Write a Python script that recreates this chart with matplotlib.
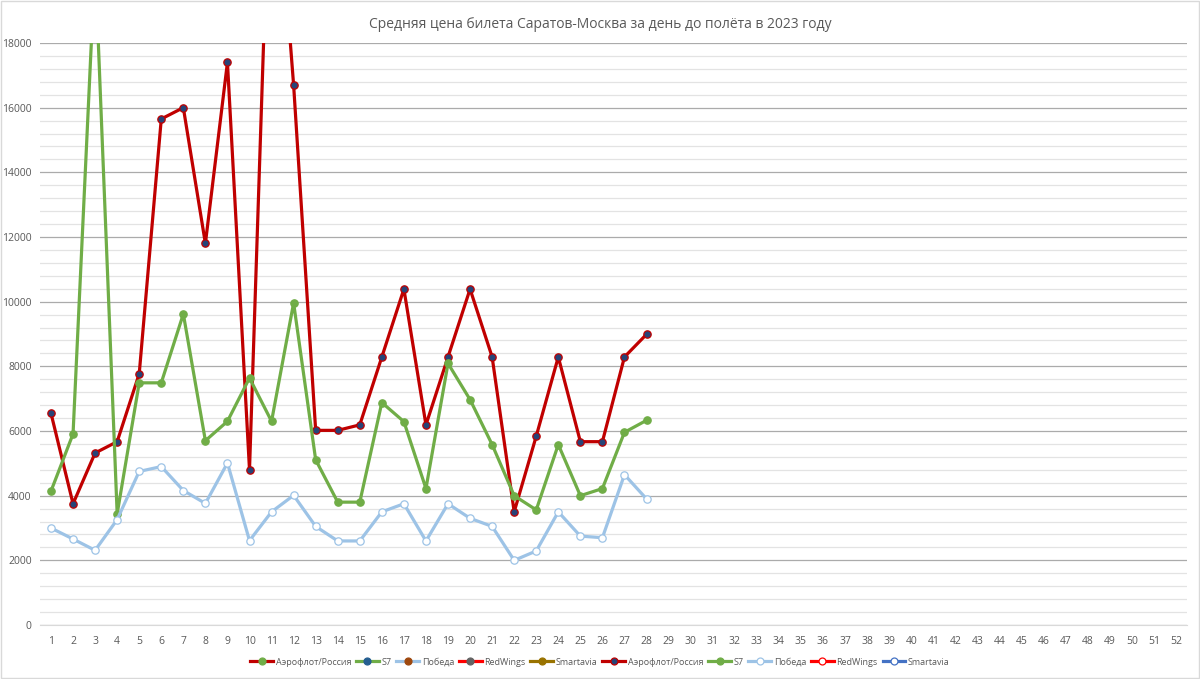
"""Average Saratov-Moscow ticket price one day before the flight, 2023 (by week)."""
import matplotlib
matplotlib.use("Agg")
import matplotlib.pyplot as plt
import numpy as np
from matplotlib.lines import Line2D
from matplotlib.ticker import MultipleLocator

plt.rcParams["font.family"] = ["Open Sans", "DejaVu Sans"]

TITLE = "Средняя цена билета Саратов-Москва за день до полёта в 2023 году"
weeks = list(range(1, 53))

# 2023 data, weeks 1..28 (values beyond 18000 are clipped by the axis)
aeroflot = [6550, 3750, 5320, 5670, 7770, 15650, 16000, 11800, 17400, 4800,
            25500, 16700, 6020, 6020, 6190, 8290, 10390, 6190, 8290, 10390,
            8290, 3500, 5840, 8290, 5670, 5670, 8290, 8990]
s7 = [4140, 5910, 20500, 3440, 7490, 7490, 9620, 5700, 6300, 7640,
      6300, 9960, 5110, 3800, 3800, 6880, 6290, 4220, 8090, 6970,
      5580, 4000, 3560, 5580, 4000, 4220, 5960, 6330]
pobeda = [3000, 2660, 2310, 3260, 4750, 4900, 4160, 3760, 5010, 2610,
          3500, 4010, 3050, 2600, 2600, 3500, 3750, 2600, 3750, 3300,
          3050, 2000, 2290, 3500, 2750, 2700, 4650, 3900]
redwings = []
smartavia = []

# (label, line colour, marker face, marker edge, values)
series = [
    ("Аэрофлот/Россия", "#C00000", "#70AD47", "#70AD47", []),
    ("S7", "#70AD47", "#255E91", "#255E91", []),
    ("Победа", "#9DC3E6", "#9E480E", "#9E480E", []),
    ("RedWings", "#FF0000", "#636363", "#636363", []),
    ("Smartavia", "#997300", "#997300", "#997300", []),
    ("Аэрофлот/Россия", "#C00000", "#264478", "#C00000", aeroflot),
    ("S7", "#70AD47", "#70AD47", "#70AD47", s7),
    ("Победа", "#9DC3E6", "white", "#9DC3E6", pobeda),
    ("RedWings", "#FF0000", "white", "#FF0000", redwings),
    ("Smartavia", "#4472C4", "white", "#4472C4", smartavia),
]

fig = plt.figure(figsize=(12, 6.79), dpi=100)
ax = fig.add_axes([0.0333, 0.0795, 0.9558, 0.8572])

handles = []
for i, (label, lc, mfc, mec, vals) in enumerate(series):
    x = weeks[:len(vals)]
    ax.plot(x, vals, color=lc, lw=2.3, marker="o", ms=5.3, mfc=mfc, mec=mec,
            mew=0.9, zorder=3 + i, clip_on=True)
    handles.append(Line2D([], [], color=lc, lw=2.3, marker="o", ms=5,
                          mfc=mfc, mec=mec, mew=0.9, label=label))

ax.set_xlim(0.5, 52.5)
ax.set_ylim(0, 18000)
ax.set_xticks(weeks)
ax.yaxis.set_major_locator(MultipleLocator(2000))
ax.yaxis.set_minor_locator(MultipleLocator(400))
ax.grid(which="major", axis="y", color="#ABABAB", lw=0.9, zorder=1)
ax.grid(which="minor", axis="y", color="#E3E3E3", lw=0.9, zorder=0)
for side in ("top", "right", "left"):
    ax.spines[side].set_visible(False)
ax.spines["bottom"].set_color("#D9D9D9")
ax.tick_params(axis="both", which="both", length=0, colors="#595959",
               labelsize=7.5)
ax.tick_params(axis="x", pad=8)
ax.tick_params(axis="y", pad=6)

fig.suptitle(TITLE, y=0.975, fontsize=10, color="#595959")
fig.legend(handles=handles, loc="center", bbox_to_anchor=(0.5, 0.025),
           ncol=10, frameon=False, fontsize=6.5, handlelength=2.5,
           handletextpad=0.3, columnspacing=0.55, labelcolor="#595959")

fig.patches.append(plt.Rectangle((0.001, 0.001), 0.998, 0.998,
                                 transform=fig.transFigure, fill=False,
                                 edgecolor="#D9D9D9", lw=1))
fig.savefig("out.png", dpi=100)
